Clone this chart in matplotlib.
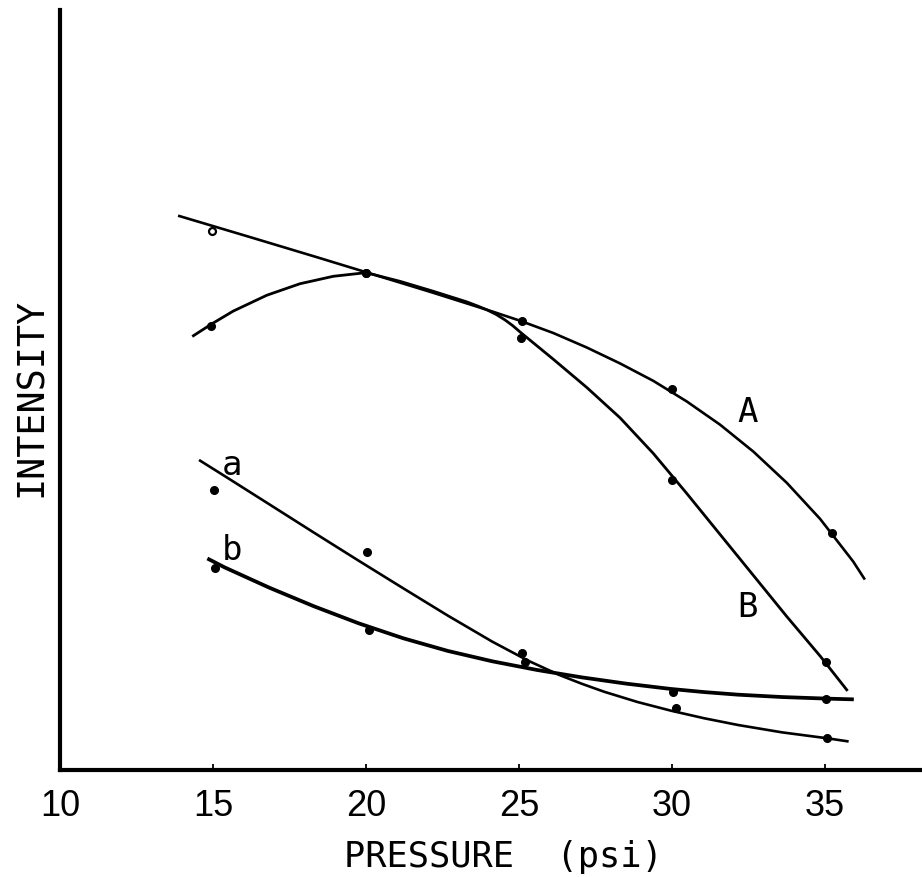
import numpy as np
import matplotlib
matplotlib.use("Agg")
import matplotlib.pyplot as plt


# Measured points (pressure in psi, intensity in arbitrary units 0-100)
A_x = [14.96, 20.0, 25.09, 29.99, 35.23]
A_y = [70.96, 65.39, 59.12, 50.10, 31.18]
B_x = [14.93, 20.0, 25.05, 29.99, 35.02]
B_y = [58.42, 65.39, 56.88, 38.16, 14.25]
a_x = [15.03, 20.02, 25.09, 30.12, 35.07]
a_y = [36.84, 28.64, 15.39, 8.16, 4.21]
b_x = [15.07, 20.1, 25.2, 30.03, 35.02]
b_y = [26.54, 18.42, 14.25, 10.26, 9.34]

# Hand drawn fit curves
A_curve_x = [13.90, 16.21, 18.39, 20.0, 22.19, 24.15, 25.03, 26.12, 27.21, 28.30, 29.39,
             30.48, 31.57, 32.66, 33.75, 34.84, 35.92, 36.28]
A_curve_y = [72.89, 70.12, 67.48, 65.50, 62.80, 60.30, 59.12, 57.50, 55.60, 53.50, 51.20,
             48.50, 45.44, 41.89, 37.79, 33.04, 27.44, 25.20]
B_curve_x = [14.36, 14.94, 15.66, 16.76, 17.84, 18.93, 20.0, 21.11, 22.19, 23.29, 23.65,
             23.95, 24.25, 24.55, 24.80, 25.03, 26.12, 27.21, 28.30, 29.39, 30.48, 31.57,
             32.66, 33.75, 34.84, 35.71]
B_curve_y = [57.14, 58.65, 60.38, 62.47, 63.98, 64.96, 65.44, 64.30, 63.00, 61.60, 61.05,
             60.55, 59.95, 59.20, 58.45, 57.65, 54.05, 50.35, 46.35, 41.65, 36.40, 31.00,
             25.60, 20.20, 15.00, 10.55]
a_curve_x = [14.58, 15.38, 16.84, 18.30, 19.76, 21.22, 22.68, 24.13, 25.30, 26.32, 27.05,
             27.78, 28.87, 29.97, 31.06, 32.16, 33.60, 35.08, 35.73]
a_curve_y = [40.70, 38.68, 34.96, 31.23, 27.54, 23.90, 20.30, 16.88, 14.38, 12.50, 11.35,
             10.30, 8.95, 7.80, 6.80, 5.92, 4.95, 4.17, 3.78]
b_curve_x = [14.87, 15.38, 16.84, 18.30, 19.76, 21.22, 22.68, 24.13, 25.59, 27.05, 28.51,
             29.97, 31.06, 32.16, 33.60, 35.08, 35.88]
b_curve_y = [27.72, 26.66, 23.99, 21.54, 19.30, 17.33, 15.66, 14.30, 13.16, 12.19, 11.36,
             10.66, 10.25, 9.91, 9.60, 9.39, 9.30]

x_ticks = [10, 15, 20, 25, 30, 35]
x_tick_labels = ["10", "15", "20", "25", "30", "35"]

# curve name labels: text, x, baseline y
curve_labels = [("A", 32.48, 45.79), ("B", 32.48, 20.13),
                ("a", 15.62, 38.82), ("b", 15.62, 27.63)]

MONO = ["DejaVu Sans Mono"]
TICKFONT = ["Liberation Sans", "DejaVu Sans"]


def main():
    W, H = 922, 877
    fig = plt.figure(figsize=(W / 100, H / 100), dpi=100)
    ax = fig.add_axes([60 / W, 107 / H, 862 / W, 760 / H])

    ax.plot(A_curve_x, A_curve_y, color="black", lw=1.9, solid_joinstyle="round")
    ax.plot(B_curve_x, B_curve_y, color="black", lw=2.0, solid_joinstyle="round")
    ax.plot(a_curve_x, a_curve_y, color="black", lw=1.9, solid_joinstyle="round")
    ax.plot(b_curve_x, b_curve_y, color="black", lw=2.7, solid_joinstyle="round")

    # first A point is drawn as an open circle in the original
    ax.plot(A_x[:1], A_y[:1], "o", ms=5, mfc="white", mec="black", mew=1.6)
    ax.plot(A_x[1:], A_y[1:], "o", ms=5.5, color="black")
    ax.plot(B_x, B_y, "o", ms=5.5, color="black")
    ax.plot(a_x, a_y, "o", ms=5.5, color="black")
    ax.plot(b_x, b_y, "o", ms=5.5, color="black")

    for txt, x, y in curve_labels:
        ax.text(x, y, txt, ha="center", va="baseline", fontsize=24.5, family=MONO)

    ax.set_xlim(10, 10 + 862 / 30.6)
    ax.set_ylim(0, 100)
    ax.set_xticks(x_ticks)
    ax.set_xticklabels(x_tick_labels, family=TICKFONT, fontsize=26)
    ax.set_yticks([])
    ax.tick_params(axis="x", direction="in", length=4.5, width=1.3, pad=14)

    for side in ("top", "right"):
        ax.spines[side].set_visible(False)
    for side in ("left", "bottom"):
        ax.spines[side].set_linewidth(3.0)
    ax.patch.set_alpha(0)

    fig.text(503 / W, 10.5 / H, "PRESSURE  (psi)", ha="center", va="baseline",
             fontsize=25.5, family=MONO)
    fig.text(42 / W, (H - 397.5) / H, "INTENSITY", rotation=90, rotation_mode="anchor",
             ha="center", va="baseline", fontsize=26.5, family=MONO)

    fig.savefig("out.png", dpi=100)
    plt.close(fig)


if __name__ == "__main__":
    main()
